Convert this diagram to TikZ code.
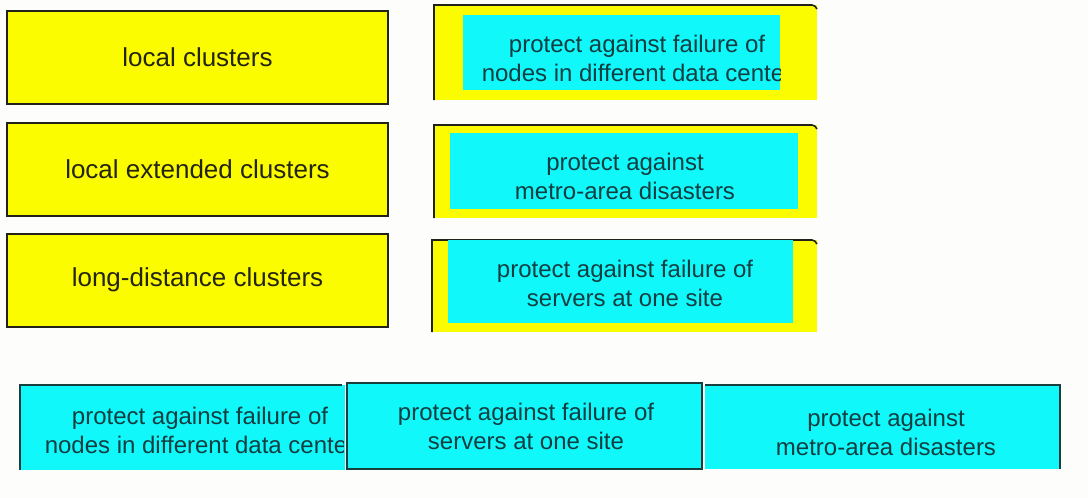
\documentclass[tikz,border=0pt]{standalone}
\usepackage{fontspec}
\setmainfont{Liberation Sans}
\definecolor{ylw}{RGB}{252,252,0}
\definecolor{cyn}{RGB}{16,248,250}
\definecolor{edge}{RGB}{34,34,26}
\definecolor{tedge}{RGB}{24,62,62}
\definecolor{ytext}{RGB}{36,36,18}
\definecolor{ctext}{RGB}{18,62,66}
\definecolor{bg}{RGB}{253,253,252}
\tikzset{
  lbox/.style={draw=edge, line width=2pt, fill=ylw, minimum width=381pt, minimum height=93pt, inner sep=0pt,
     text=ytext, font=\fontsize{26}{31}\selectfont},
  cbox/.style={fill=cyn, inner sep=0pt, draw=none},
  ctxt/.style={text=ctext, align=center, inner sep=0pt, font=\fontsize{24}{29}\selectfont},
  bordr/.style={draw=edge, line width=1.6pt},
  tbordr/.style={draw=tedge, line width=1.8pt}
}
\begin{document}
\begin{tikzpicture}[x=1pt,y=-1pt]
\fill[bg] (0,0) rectangle (1088,498);
\useasboundingbox (0,0) rectangle (1088,498);
% left yellow boxes
\node[lbox] (l1) at (197.5,57.5) {\raisebox{-2pt}{local clusters}};
\node[lbox] (l2) at (197.5,169.5) {\raisebox{-2pt}{local extended clusters}};
\node[lbox] (l3) at (197.5,280) {\raisebox{-2pt}{long-distance clusters}};
% right column: yellow back panels
\fill[ylw] (434,5) rectangle (817,100);
\fill[ylw] (434,125) rectangle (817,218);
\fill[ylw] (432,240) rectangle (817,332);
\draw[bordr] (434,100) -- (434,5) -- (812,5) to[out=0,in=120] (817,9);
\draw[bordr] (434,218) -- (434,125) -- (812,125) to[out=0,in=120] (817,129);
\draw[bordr] (432,332) -- (432,240) -- (812,240) to[out=0,in=120] (817,244);
% right column: cyan inner boxes
\node[cbox, minimum width=317pt, minimum height=75pt] (r1) at (621.5,52.5) {};
\node[cbox, minimum width=348pt, minimum height=76pt] (r2) at (624,171) {};
\node[cbox, minimum width=345pt, minimum height=83pt] (r3) at (620.5,281.5) {};
\begin{scope}
\clip (463,15) rectangle (780,90);
\node[ctxt] (t1) at (637,58) {protect against failure of\\nodes in different data center};
\end{scope}
\node[ctxt] (t2) at (625,176) {protect against\\metro-area disasters};
\node[ctxt] (t3) at (625,283) {protect against failure of\\servers at one site};
% bottom row
\fill[cyn] (20,385) rectangle (345,470);
\draw[tbordr] (20,470) -- (20,385) -- (342,385);
\begin{scope}
\clip (20,385) rectangle (343,470);
\node[ctxt] (b1) at (200,430.5) {protect against failure of\\nodes in different data center};
\end{scope}
\node[cbox, tbordr, minimum width=355pt, minimum height=86pt] (b2box) at (524.5,426) {};
\node[ctxt] (b2) at (526,426) {protect against failure of\\servers at one site};
\fill[cyn] (705,385) rectangle (1060,469);
\draw[tbordr] (705,385) -- (1060,385) -- (1060,469);
\node[ctxt] (b3) at (886,432) {protect against\\metro-area disasters};
\end{tikzpicture}
\end{document}
